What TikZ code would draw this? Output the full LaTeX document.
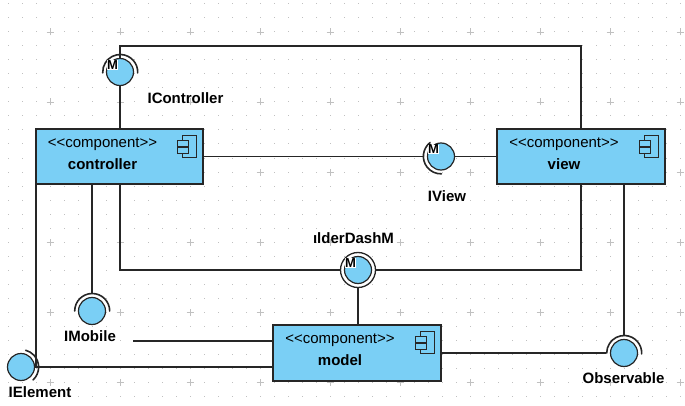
\documentclass[tikz,border=0pt]{standalone}
\usepackage{fontspec}
\setmainfont{Liberation Sans}
\usetikzlibrary{calc}
\definecolor{compblue}{RGB}{122,207,245}
\definecolor{gridgray}{RGB}{192,192,192}

\begin{document}
\begin{tikzpicture}[x=1pt, y=1pt,
  comp/.style={rectangle, draw=black!85, line width=1.4pt, fill=compblue, inner sep=0pt},
  ball/.style={circle, draw=black!85, line width=1.2pt, fill=compblue, minimum size=27pt, inner sep=0pt},
  sock/.style={circle, minimum size=35pt, inner sep=0pt},
  wire/.style={line width=1.3pt, black!85},
  cup/.style={line width=1.6pt, black!85, line cap=round},
  lbl/.style={font=\fontsize{15}{18}\selectfont\bfseries, inner sep=0pt},
  mletter/.style={fill=white, inner sep=0.4pt, font=\fontsize{13}{13}\selectfont\bfseries}]
\useasboundingbox (0,0) rectangle (685,405);
% background grid
\foreach \i in {0,...,48} \foreach \j in {0,...,28}
  \fill[gridgray] ({7.5+14*\i},{400.5-14*\j}) rectangle ++(1,1);
\foreach \i in {0,...,9} \foreach \j in {0,...,5}
  \draw[gridgray, line width=0.8pt] ({46.5+70*\i},{373-70*\j}) -- ++(7,0) ({50+70*\i},{369.5-70*\j}) -- ++(0,7);

% components
\node[comp, minimum width=167pt, minimum height=55pt] (ctrl) at (119.5,248.5) {};
\node[comp, minimum width=168pt, minimum height=55pt] (view) at (581,248.5) {};
\node[comp, minimum width=168pt, minimum height=56pt] (model) at (357,52) {};
\foreach \b/\t in {ctrl/controller, view/view, model/model} {
  \node[anchor=base, inner sep=0pt, font=\fontsize{15}{18}\selectfont] (\b-st) at ($(\b.north)+(-17,-19)$) {\textless\kern0pt\textless\kern0pt component\textgreater\kern0pt\textgreater};
  \node[anchor=base, lbl] (\b-nm) at ($(\b.north)+(-17,-41.5)$) {\t};
  \draw[line width=0.9pt, black!85, fill=compblue] ($(\b.north east)+(-21,-7)$) rectangle ++(14,-22);
  \draw[line width=0.9pt, black!85, fill=compblue] ($(\b.north east)+(-26,-12)$) rectangle ++(11,-6);
  \draw[line width=0.9pt, black!85, fill=compblue] ($(\b.north east)+(-26,-19)$) rectangle ++(11,-6);
}

% interfaces
\node[ball] (ictrl) at (120,333) {};
\node[sock] (ictrl-s) at (ictrl) {};
\node[ball] (iview) at (441,248.5) {};
\node[sock] (iview-s) at (iview) {};
\node[sock, draw=black!85, line width=1.3pt, fill=white] (dash-s) at (358,135) {};
\node[ball] (dash) at (dash-s) {};
\node[ball] (imob) at (92,94) {};
\node[sock] (imob-s) at (imob) {};
\node[ball] (ielem) at (21,38) {};
\node[sock] (ielem-s) at (ielem) {};
\node[ball] (obs) at (624,52) {};
\node[sock] (obs-s) at (obs) {};
\draw[cup] (ictrl-s.-3) arc[start angle=-3, end angle=183, radius=17.5pt];
\draw[cup] (iview-s.128) arc[start angle=128, end angle=272, radius=17.5pt];
\draw[cup] (imob-s.0) arc[start angle=0, end angle=180, radius=17.5pt];
\draw[cup] (ielem-s.-47) arc[start angle=-47, end angle=75, radius=17.5pt];
\draw[cup] (obs-s.-3) arc[start angle=-3, end angle=180, radius=17.5pt];
\foreach \n in {ictrl, iview, dash}
  \node[mletter] (\n-m) at ($(\n)+(-7.5,7)$) {M};

% connectors
\coordinate (topbend) at (350,359);
\draw[wire] (ictrl.north) |- (topbend) -| (view.north);
\draw[wire] (ictrl.south) -- (ictrl |- ctrl.north);
\draw[wire] (ctrl.east) -- (iview-s.west);
\draw[wire] (iview.east) -- (view.west);
\draw[wire] (ctrl.south -| ictrl) |- (dash-s.west);
\draw[wire] (dash-s.east) -| (view.south);
\draw[wire] (dash-s.south) -- (dash |- model.north);
\draw[wire] (ctrl.south -| imob) -- (imob-s.north);
\coordinate (imob-end) at (133,64);
\draw[wire] (imob-end) -- (model.west |- imob-end);
\draw[wire] ([xshift=0.7pt]ctrl.south west) |- (ielem-s.east) -- (model.west |- ielem);
\draw[wire] (view.south -| obs) -- (obs-s.north);
\draw[wire] (model.east) -- (obs-s.west);

% labels
\node[lbl] (ictrl-l) at (185.5,307) {IController};
\node[lbl] (iview-l) at (447,209) {IView};
\node[lbl] (dash-l) at (353.5,167) {ılderDashM};
\node[lbl] (imob-l) at (90,69) {IMobile};
\node[lbl] (ielem-l) at (40,13) {IElement};
\node[lbl] (obs-l) at (623.5,27) {Observable};
\end{tikzpicture}
\end{document}
